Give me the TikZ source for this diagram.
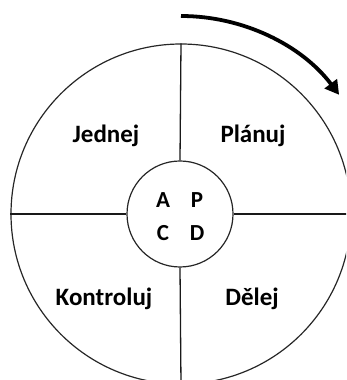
\documentclass[tikz,border=0pt]{standalone}
\usepackage{fontspec}
\setmainfont{Carlito}
\usetikzlibrary{arrows.meta,positioning,calc}

\begin{document}
\begin{tikzpicture}[
    x=1pt, y=1pt,
    >=Latex,
    ring/.style={circle, draw=black!85, line width=1.2pt, inner sep=0pt},
    divider/.style={draw=black!90, line width=1.3pt},
    phase/.style={font=\fontsize{25}{27}\selectfont\bfseries},
    letter/.style={font=\fontsize{23}{25}\selectfont\bfseries}
]
\useasboundingbox (0,0) rectangle (346,380);
\clip (0,0) rectangle (346,380);
\node[ring, minimum size=340pt] (wheel) at (181,166) {};
\node[ring, minimum size=106pt] (hub) at (180,166) {};
\draw[divider] (wheel.north) -- (hub.north);
\draw[divider] (hub.south) -- (wheel.south);
\draw[divider] (wheel.west) -- (hub.west);
\draw[divider] (hub.east) -- (wheel.east);
\node[phase] (act) at (106,244) {Jednej};
\node[phase] (plan) at (253,244) {Plánuj};
\node[phase] (check) at (104,81) {Kontroluj};
\node[phase] (do) at (252,81) {Dělej};
\node[letter] (la) at (163,180) {A};
\node[letter] (lp) at (197,180) {P};
\node[letter] (lc) at (163,147) {C};
\node[letter] (ld) at (197,147) {D};
% direction of the cycle
\coordinate (turn) at (181,166);
\draw[-{Triangle[length=14pt,width=15pt]}, line width=3.8pt] ($(turn)+(90:198)$) arc[start angle=90, end angle=37, radius=198];
\end{tikzpicture}
\end{document}
